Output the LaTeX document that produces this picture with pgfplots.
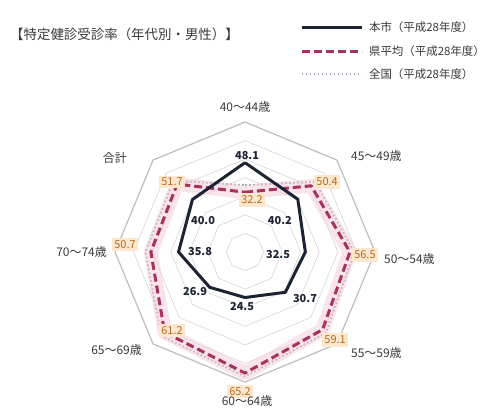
\documentclass[border=0pt]{standalone}
\usepackage{fontspec}
\setmainfont{Noto Sans CJK JP}
\usepackage{pgfplots}
\pgfplotsset{compat=1.18}

\definecolor{cityline}{HTML}{1C2333}
\definecolor{prefline}{HTML}{A8325A}
\definecolor{prefglow}{HTML}{F6C9D8}
\definecolor{natline}{HTML}{9AA7B3}
\definecolor{gridc}{HTML}{D4D4D4}
\definecolor{gridout}{HTML}{BDBDBD}
\definecolor{tagfill}{HTML}{FDE8CF}
\definecolor{tagtext}{HTML}{B86A1E}
\definecolor{labtext}{HTML}{3A3A3A}

\tikzset{
  blab/.style={font=\fontsize{11}{13}\selectfont\bfseries, text=cityline, inner sep=1bp},
  tag/.style={font=\fontsize{11}{13}\selectfont, text=tagtext, fill=tagfill, inner sep=2.5bp},
}

\begin{document}
\begin{tikzpicture}[x=1bp,y=1bp]
\path[use as bounding box] (0,0) rectangle (487,408);

% title
\node[anchor=west, font=\fontsize{13.5}{16}\selectfont, text=labtext, inner sep=0pt] at (10,374) {【特定健診受診率（年代別・男性）】};

\begin{axis}[
  at={(245bp,156bp)}, anchor=center,
  x=1.857bp, y=1.857bp,
  xmin=-70, xmax=70, ymin=-70, ymax=70,
  hide axis, clip=false,
  legend cell align=left,
  legend image code/.code={\draw[#1] (0bp,0bp) -- (60bp,0bp);},
  legend style={at={(0.711,1.389)}, anchor=north west, draw=none, fill=none,
    font=\fontsize{11.5}{13.5}\selectfont, text=labtext, inner sep=0pt,
    row sep=10bp, column sep=5bp, nodes={inner sep=1bp}},
]
\addlegendimage{cityline, line width=3bp}
\addlegendentry{本市（平成28年度）}
\addlegendimage{prefline, line width=3bp, dash pattern=on 8bp off 4bp}
\addlegendentry{県平均（平成28年度）}
\addlegendimage{natline, line width=1.8bp, dash pattern=on 1.8bp off 2.2bp}
\addlegendentry{全国（平成28年度）}

% octagonal grid rings
\addplot[gridc, line width=0.6bp, forget plot, data cs=polar] coordinates {(90,10)(45,10)(0,10)(-45,10)(-90,10)(-135,10)(180,10)(135,10)(90,10)};
\addplot[gridc, line width=0.6bp, forget plot, data cs=polar] coordinates {(90,20)(45,20)(0,20)(-45,20)(-90,20)(-135,20)(180,20)(135,20)(90,20)};
\addplot[gridc, line width=0.6bp, forget plot, data cs=polar] coordinates {(90,30)(45,30)(0,30)(-45,30)(-90,30)(-135,30)(180,30)(135,30)(90,30)};
\addplot[gridc, line width=0.6bp, forget plot, data cs=polar] coordinates {(90,40)(45,40)(0,40)(-45,40)(-90,40)(-135,40)(180,40)(135,40)(90,40)};
\addplot[gridc, line width=0.6bp, forget plot, data cs=polar] coordinates {(90,50)(45,50)(0,50)(-45,50)(-90,50)(-135,50)(180,50)(135,50)(90,50)};
\addplot[gridc, line width=0.6bp, forget plot, data cs=polar] coordinates {(90,60)(45,60)(0,60)(-45,60)(-90,60)(-135,60)(180,60)(135,60)(90,60)};
\addplot[gridout, line width=1.2bp, forget plot, line join=miter, data cs=polar] coordinates {(90,70)(45,70)(0,70)(-45,70)(-90,70)(-135,70)(180,70)(135,70)(90,70)};

% national average
\addplot[natline, line width=1.8bp, dash pattern=on 1.8bp off 2.2bp, forget plot, data cs=polar] coordinates {(90,36.0)(45,53.5)(0,58.8)(-45,61.6)(-90,67.0)(-135,63.8)(180,53.6)(135,54.4)(90,36.0)};

% prefecture: soft band under the dashed line
\addplot[prefglow, line width=14bp, opacity=0.5, line join=round, forget plot, data cs=polar] coordinates {(90,32.2)(45,50.4)(0,56.5)(-45,59.1)(-90,65.2)(-135,61.2)(180,50.7)(135,51.7)(90,32.2)};
\addplot[prefline, line width=3bp, dash pattern=on 8bp off 4bp, line join=round, forget plot, data cs=polar] coordinates {(90,32.2)(45,50.4)(0,56.5)(-45,59.1)(-90,65.2)(-135,61.2)(180,50.7)(135,51.7)(90,32.2)};

% city
\addplot[cityline, line width=3bp, line join=round, forget plot, data cs=polar] coordinates {(90,48.1)(45,40.2)(0,32.5)(-45,30.7)(-90,24.5)(-135,26.9)(180,35.8)(135,40.0)(90,48.1)};

% value labels, city
\node[blab] at (axis cs:1.1,52.2) {48.1};
\node[blab] at (axis cs:18.8,17.2) {40.2};
\node[blab] at (axis cs:17.8,-1.6) {32.5};
\node[blab] at (axis cs:32.3,-24.8) {30.7};
\node[blab] at (axis cs:-1.6,-29.1) {24.5};
\node[blab] at (axis cs:-26.9,-21.5) {26.9};
\node[blab] at (axis cs:-24.2,0) {35.8};
\node[blab] at (axis cs:-22.6,17.2) {40.0};

% value labels, prefecture
\node[tag] at (axis cs:3.8,28.0) {32.2};
\node[tag] at (axis cs:44.2,37.7) {50.4};
\node[tag] at (axis cs:64.6,-1.6) {56.5};
\node[tag] at (axis cs:48.5,-47.4) {59.1};
\node[tag] at (axis cs:-2.7,-74.9) {65.2};
\node[tag] at (axis cs:-39.3,-42.5) {61.2};
\node[tag] at (axis cs:-64.6,3.8) {50.7};
\node[tag] at (axis cs:-39.3,37.7) {51.7};
\end{axis}

% category labels
\begin{scope}[every node/.style={font=\fontsize{12}{14}\selectfont, text=labtext, inner sep=1bp}]
\node[anchor=center] at (245,301) {40～44歳};
\node[anchor=west] at (350,252) {45～49歳};
\node[anchor=west] at (383,149) {50～54歳};
\node[anchor=west] at (350,55) {55～59歳};
\node[anchor=center] at (247,7) {60～64歳};
\node[anchor=east] at (143,58) {65～69歳};
\node[anchor=east] at (108,156) {70～74歳};
\node[anchor=east] at (128,250) {合計};
\end{scope}
\end{tikzpicture}
\end{document}
